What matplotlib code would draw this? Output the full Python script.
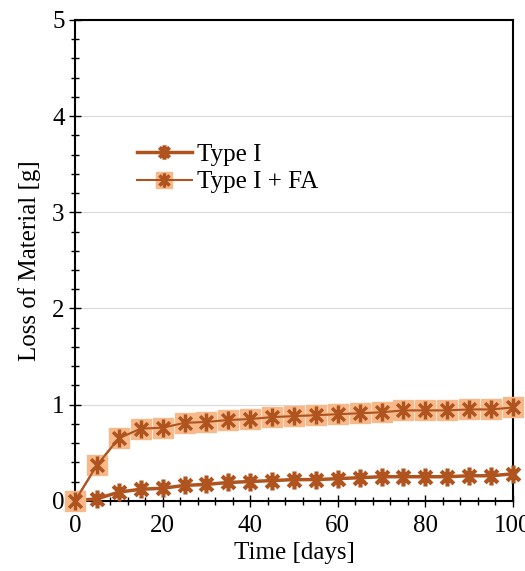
import numpy as np
import matplotlib.pyplot as plt
from matplotlib.path import Path
from matplotlib.ticker import MultipleLocator

# Data
days = [0, 5, 10, 15, 20, 25, 30, 35, 40, 45, 50, 55, 60, 65, 70, 75, 80, 85, 90, 95, 100]
type_i = [0.0, 0.02, 0.09, 0.12, 0.13, 0.16, 0.17, 0.19, 0.20, 0.21, 0.22,
          0.22, 0.23, 0.24, 0.25, 0.25, 0.25, 0.25, 0.26, 0.26, 0.28]
type_i_fa = [0.0, 0.37, 0.65, 0.75, 0.76, 0.81, 0.82, 0.84, 0.85, 0.87, 0.88,
             0.89, 0.90, 0.91, 0.92, 0.94, 0.94, 0.94, 0.95, 0.95, 0.97]

BROWN = "#B0541F"
PEACH = "#F7B98A"

# Excel-style asterisk: X plus vertical bar
_d = 0.7071
ASTER = Path(
    [(-_d, -_d), (_d, _d), (-_d, _d), (_d, -_d), (0, -1), (0, 1)],
    [Path.MOVETO, Path.LINETO, Path.MOVETO, Path.LINETO, Path.MOVETO, Path.LINETO],
)

plt.rcParams["font.family"] = ["Liberation Serif", "DejaVu Serif"]

fig = plt.figure(figsize=(5.25, 5.71), dpi=100)
ax = fig.add_axes([0.143, 0.123, 0.834, 0.842])

ax.yaxis.grid(True, color="#d9d9d9", linewidth=0.8)
ax.set_axisbelow(True)

h1, = ax.plot(days, type_i, color=BROWN, linewidth=2.5, marker=ASTER,
              markersize=13, markeredgewidth=3, markeredgecolor=BROWN,
              markerfacecolor="none", zorder=3, clip_on=False)

ax.plot(days, type_i_fa, color=BROWN, linewidth=1.5, zorder=3, clip_on=False)
h2a, = ax.plot(days, type_i_fa, linestyle="none", marker="s", markersize=14,
               markerfacecolor=PEACH, markeredgecolor=PEACH, zorder=4, clip_on=False)
h2b, = ax.plot(days, type_i_fa, color=BROWN, linewidth=1.5, marker=ASTER,
               markersize=13, markeredgewidth=2.5, markeredgecolor=BROWN,
               markerfacecolor="none", zorder=5, clip_on=False)

ax.set_xlim(0, 100)
ax.set_ylim(0, 5)
ax.xaxis.set_major_locator(MultipleLocator(20))
ax.xaxis.set_minor_locator(MultipleLocator(4))
ax.yaxis.set_major_locator(MultipleLocator(1))
ax.yaxis.set_minor_locator(MultipleLocator(0.2))
ax.tick_params(which="both", direction="inout", labelsize=18, color="black")
ax.tick_params(which="major", length=8, width=1)
ax.tick_params(which="minor", length=6, width=1)
ax.tick_params(axis="x", pad=6)
for sp in ax.spines.values():
    sp.set_linewidth(1.5)
    sp.set_color("black")

ax.set_xlabel("Time [days]", fontsize=18, labelpad=4)
ax.set_ylabel("Loss of Material [g]", fontsize=18, labelpad=8)

ax.legend([h1, (h2a, h2b)], ["Type I", "Type I + FA"], loc="upper left",
          bbox_to_anchor=(0.09, 0.79), frameon=False, fontsize=18,
          handlelength=2.2, handletextpad=0.2, labelspacing=0.2, markerscale=0.8)

fig.savefig("out.png", dpi=100)
